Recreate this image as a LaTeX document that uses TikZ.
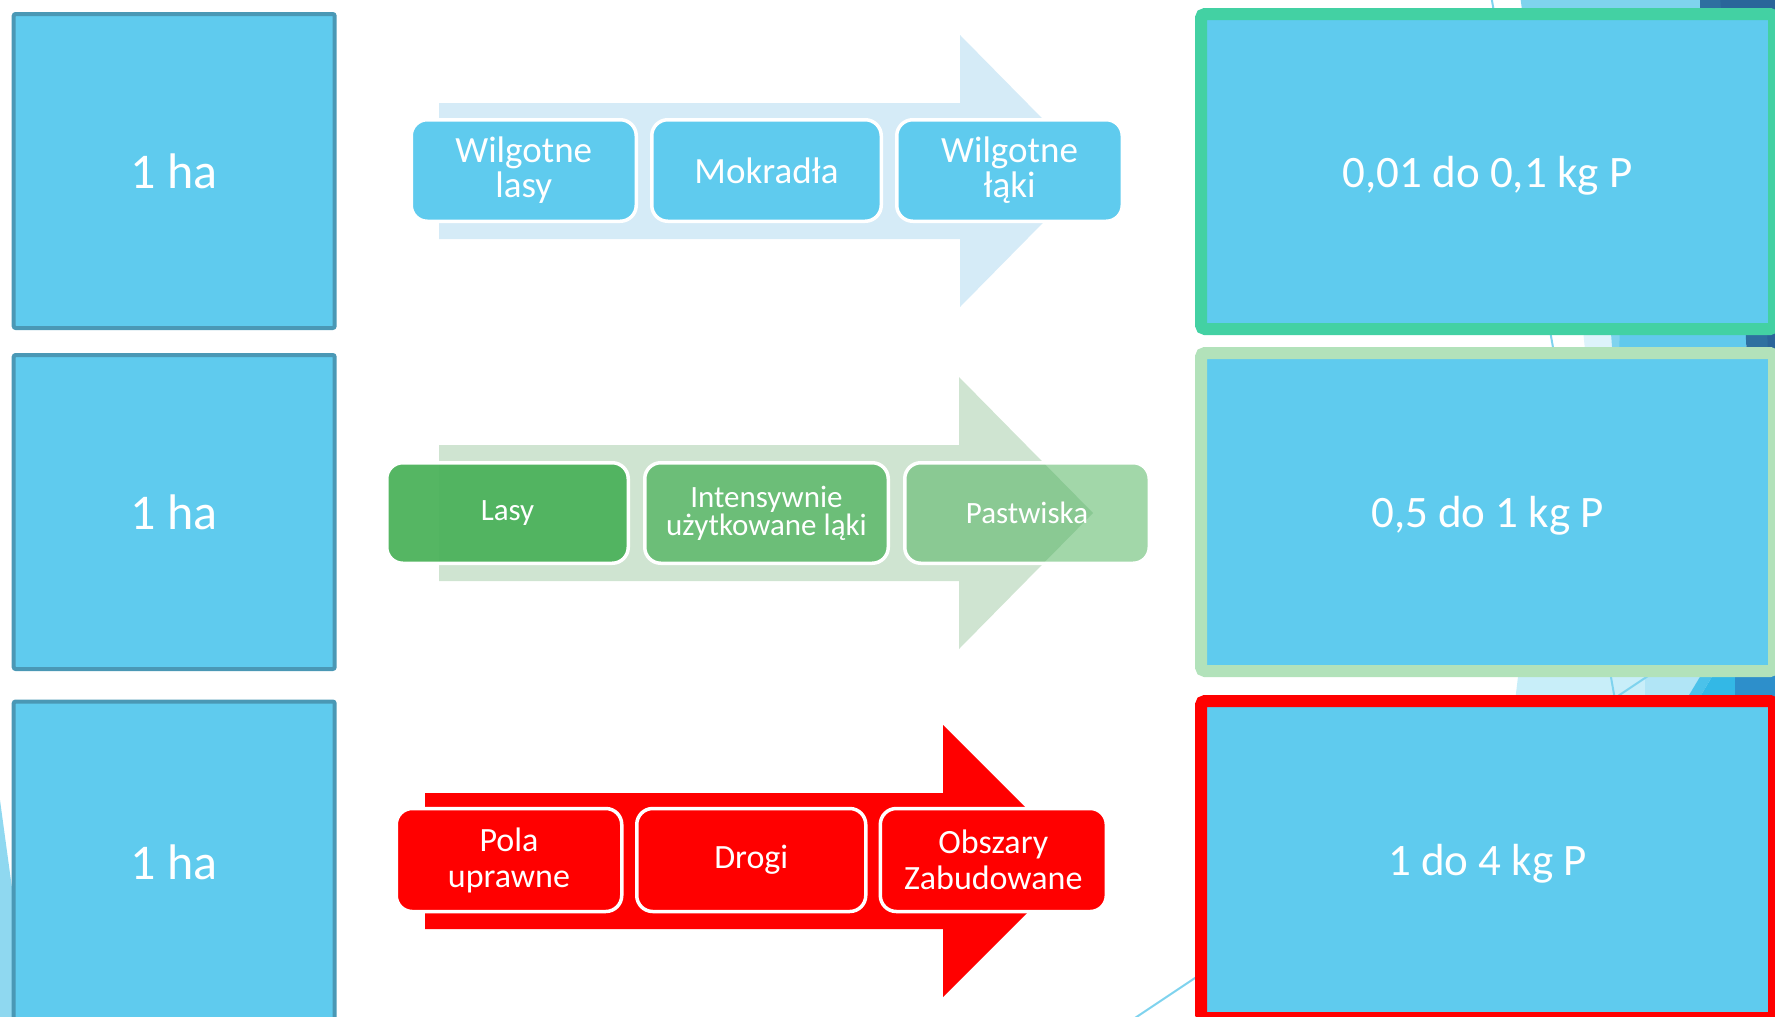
\documentclass[tikz,border=0pt]{standalone}
\usepackage{fontspec}
\setmainfont{Carlito}
\definecolor{boxblue}{HTML}{5FCBEE}
\definecolor{leftborder}{HTML}{4A98B5}
\definecolor{resgreen}{HTML}{43D1A3}
\definecolor{reslight}{HTML}{B2E2BA}
\definecolor{resred}{HTML}{FF0000}
\definecolor{arrowblue}{HTML}{D5EBF7}
\definecolor{arrowgreen}{HTML}{CFE4D1}
\definecolor{rowgreen}{HTML}{4CB25B}
\definecolor{facetA}{HTML}{7FD3EE}
\definecolor{facetB}{HTML}{2E70A0}
\definecolor{facetC}{HTML}{2A659A}
\definecolor{facetD}{HTML}{DDF3FB}
\definecolor{facetE}{HTML}{61C9EC}
\definecolor{facetF}{HTML}{C8EEF9}
\definecolor{facetG}{HTML}{B1E5F6}
\definecolor{facetH}{HTML}{4BC2EA}
\definecolor{facetI}{HTML}{33B8E6}
\definecolor{facetJ}{HTML}{2D8FCB}
\definecolor{facetK}{HTML}{8FD8F0}
\begin{document}
\begin{tikzpicture}[x=1pt,y=-1pt,
  hectare/.style={draw=leftborder, line width=4pt, fill=boxblue, rounded corners=2pt,
    minimum width=321pt, text=white, font=\fontsize{50}{50}\selectfont, inner sep=0pt},
  result/.style={fill=boxblue, line width=12pt, rounded corners=4pt, text depth=0pt,
    minimum width=573pt, text=white, font=\fontsize{45}{45}\selectfont, inner sep=0pt},
  stepbox/.style={draw=white, line width=3.5pt, rounded corners=16pt, text=white,
    align=center, inner sep=0pt},
  rowone/.style={stepbox, fill=boxblue, minimum height=101.5pt, font=\fontsize{37}{35}\selectfont},
  rowtwo/.style={stepbox, fill=rowgreen, text opacity=1, minimum height=100.5pt, font=\fontsize{31}{28}\selectfont},
  rowthree/.style={stepbox, fill=resred, minimum height=103pt, font=\fontsize{34}{36}\selectfont},
  facetline/.style={draw=facetA, line width=2pt}
]
\useasboundingbox (0,0) rectangle (1775,1017);
\clip (0,0) rectangle (1775,1017);

% background facets (mostly hidden behind the result boxes)
\fill[facetA] (1520,-5) -- (1702,-5) -- (1702,25) -- (1524,25) -- cycle;
\fill[facetB] (1700,-5) -- (1780,-5) -- (1780,25) -- (1700,25) -- cycle;
\fill[facetC] (1720,-5) -- (1780,-5) -- (1780,25) -- (1722,25) -- cycle;
\fill[facetD] (1582,320) -- (1612,320) -- (1614,360) -- (1586,360) -- cycle;
\fill[facetA] (1610,320) -- (1622,320) -- (1619,360) -- (1613,360) -- cycle;
\fill[facetE] (1620,320) -- (1745,320) -- (1747,360) -- (1619,360) -- cycle;
\fill[facetB] (1745,320) -- (1780,320) -- (1780,360) -- (1747,360) -- cycle;
\fill[facetC] (1767,320) -- (1780,320) -- (1780,360) -- (1768,360) -- cycle;
\fill[facetF] (1520,660) -- (1645,660) -- (1645,710) -- (1514,710) -- cycle;
\fill[facetG] (1645,660) -- (1710,660) -- (1680,710) -- (1645,710) -- cycle;
\fill[facetH] (1710,660) -- (1722,660) -- (1692,710) -- (1680,710) -- cycle;
\fill[facetI] (1722,660) -- (1735,660) -- (1735,710) -- (1692,710) -- cycle;
\fill[facetJ] (1735,660) -- (1780,660) -- (1780,710) -- (1735,710) -- cycle;
\fill[facetK] (0,800) -- (30,1020) -- (0,1020) -- cycle;
\coordinate (la) at (1491,-5);
\coordinate (lb) at (1615,700);
\coordinate (lc) at (1120,1028);
\coordinate (ld) at (1660,668);
\draw[facetline] (la) -- (lb);
\draw[facetline] (lc) -- (ld);

% background arrows
\fill[arrowblue] (439,103) -- (960,103) -- (960,35) -- (1094,171) -- (960,307) -- (960,239) -- (439,239) -- cycle;
\fill[arrowgreen] (439,445) -- (959,445) -- (959,377) -- (1093,513) -- (959,649) -- (959,581) -- (439,581) -- cycle;
\fill[resred] (425,793) -- (943,793) -- (943,725) -- (1079,861) -- (943,997) -- (943,929) -- (425,929) -- cycle;

% left boxes
\node[hectare, minimum height=314pt] (h1) at (174.2,171) {1 ha};
\node[hectare, minimum height=314pt] (h2) at (174.2,512) {1 ha};
\node[hectare, minimum height=321pt] (h3) at (174.2,862) {1 ha};

% right boxes
\node[result, draw=resgreen, minimum height=315pt] (r1) at (1487.5,171.5) {0,01 do 0,1 kg P};
\node[result, draw=reslight, minimum height=318pt] (r2) at (1487.5,512) {0,5 do 1 kg P};
\node[result, draw=resred, minimum height=317pt] (r3) at (1487.5,859.5) {1 do 4 kg P};

% row 1 steps
\node[rowone, minimum width=225pt] (a1) at (523.75,170.5) {Wilgotne\\lasy};
\node[rowone, minimum width=229.5pt] (a2) at (766.5,170.5) {Mokradła};
\node[rowone, minimum width=225.5pt] (a3) at (1009.5,170.5) {Wilgotne\\łąki};

% row 2 steps
\node[rowtwo, fill opacity=0.95, minimum width=241.5pt] (b1) at (507.5,513) {Lasy};
\node[rowtwo, fill opacity=0.75, minimum width=243.5pt] (b2) at (766.5,513) {Intensywnie\\użytkowane ląki};
\node[rowtwo, fill opacity=0.52, minimum width=244.5pt] (b3) at (1027,513) {Pastwiska};

% row 3 steps
\node[rowthree, minimum width=225.5pt] (c1) at (509,860) {Pola\\uprawne};
\node[rowthree, minimum width=229pt] (c2) at (751.25,860) {Drogi};
\node[rowthree, minimum width=226pt] (c3) at (993.3,860) {Obszary\\Zabudowane};
\end{tikzpicture}
\end{document}
